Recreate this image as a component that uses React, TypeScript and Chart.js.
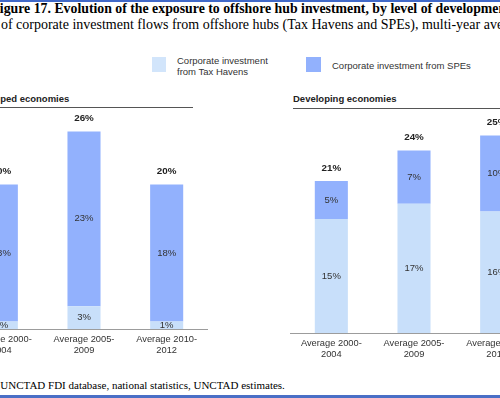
import React, { useEffect, useRef } from "react";
import { Chart, registerables } from "chart.js";

Chart.register(...registerables);

// ---- data ----
const categories = [
  ["Average 2000-", "2004"],
  ["Average 2005-", "2009"],
  ["Average 2010-", "2012"],
];
const seriesNames = ["Corporate investment from Tax Havens", "Corporate investment from SPEs"];
const developedTaxHavens = [1, 3, 1];
const developedSPEs = [18, 23, 18];
const developedTotals = [20, 26, 20];
const developingTaxHavens = [15, 17, 16];
const developingSPEs = [5, 7, 10];
const developingTotals = [21, 24, 25];

const LIGHT = "#c8dffa";
const DARK = "#92b1fd";
const SANS = '"Liberation Sans", Arial, Helvetica, sans-serif';
const SERIF = '"Liberation Serif", "Times New Roman", Times, serif';

function makeLabelPlugin(totals: number[]) {
  return {
    id: "barLabels",
    afterDatasetsDraw(chart: any) {
      const ctx = chart.ctx;
      ctx.save();
      ctx.textAlign = "center";
      ctx.textBaseline = "middle";
      chart.data.datasets.forEach((ds: any, di: number) => {
        const meta = chart.getDatasetMeta(di);
        meta.data.forEach((bar: any, i: number) => {
          const p = bar.getProps(["x", "y", "base"], true);
          ctx.font = `9.5px ${SANS}`;
          ctx.fillStyle = "#333333";
          ctx.fillText(ds.data[i] + "%", p.x, (p.y + p.base) / 2);
        });
      });
      const top = chart.getDatasetMeta(chart.data.datasets.length - 1);
      top.data.forEach((bar: any, i: number) => {
        const p = bar.getProps(["x", "y"], true);
        ctx.font = `bold 9.8px ${SANS}`;
        ctx.fillStyle = "#222222";
        ctx.fillText(totals[i] + "%", p.x, p.y - 13);
      });
      ctx.restore();
    },
  };
}

function Panel(props: { tax: number[]; spe: number[]; totals: number[]; style: any }) {
  const ref = useRef<HTMLCanvasElement | null>(null);
  useEffect(() => {
    if (!ref.current) return;
    const chart = new Chart(ref.current, {
      type: "bar",
      data: {
        labels: categories as any,
        datasets: [
          { label: seriesNames[0], data: props.tax, backgroundColor: LIGHT, barPercentage: 0.4, categoryPercentage: 1 },
          { label: seriesNames[1], data: props.spe, backgroundColor: DARK, barPercentage: 0.4, categoryPercentage: 1 },
        ],
      },
      options: {
        animation: false,
        responsive: false,
        maintainAspectRatio: false,
        layout: { padding: 0 },
        plugins: { legend: { display: false }, tooltip: { enabled: false } },
        scales: {
          x: {
            stacked: true,
            grid: { display: false, drawTicks: false },
            border: { display: true, color: "#9c9c9c", width: 1 },
            ticks: {
              font: { family: SANS, size: 9.3, lineHeight: 1.15 },
              color: "#333333",
              padding: 5,
              maxRotation: 0,
              autoSkip: false,
            },
            afterFit: (s: any) => {
              s.height = 40;
            },
          },
          y: { stacked: true, display: false, min: 0, max: 30 },
        },
      },
      plugins: [makeLabelPlugin(props.totals)],
    } as any);
    return () => chart.destroy();
  }, []);
  return <canvas ref={ref} width={248} height={268} style={{ position: "absolute", ...props.style }} />;
}

const abs = (o: any) => ({ position: "absolute", whiteSpace: "nowrap", margin: 0, ...o });

export default function App() {
  return (
    <div
      style={{
        position: "fixed",
        left: 0,
        top: 0,
        width: 500,
        height: 398,
        overflow: "hidden",
        background: "#ffffff",
      }}
    >
      <div style={abs({ left: 0, top: 0, width: 500, height: 2, background: "#4169c8" })} />
      <div style={abs({ left: 0, top: 395, width: 500, height: 3, background: "#4a6fc6" })} />

      <div style={abs({ left: -8.6, top: 1, font: `bold 13.8px/16px ${SERIF}`, color: "#000" })}>
        Figure 17. Evolution of the exposure to offshore hub investment, by level of development
      </div>
      <div style={abs({ left: -34.5, top: 17, font: `14px/16px ${SERIF}`, color: "#000" })}>
        Share of corporate investment flows from offshore hubs (Tax Havens and SPEs), multi-year averages
      </div>

      <div style={abs({ left: 152, top: 57, width: 14, height: 15, background: "#d2e5fb" })} />
      <div style={abs({ left: 177, top: 54.5, font: `9.5px/11px ${SANS}`, color: "#333" })}>
        Corporate investment
        <br />
        from Tax Havens
      </div>
      <div style={abs({ left: 306, top: 57, width: 15, height: 15, background: DARK })} />
      <div style={abs({ left: 332, top: 59.5, font: `9.5px/11px ${SANS}`, color: "#333" })}>
        Corporate investment from SPEs
      </div>

      <div style={abs({ left: -31, top: 93, font: `bold 9.5px/12px ${SANS}`, color: "#222" })}>
        Developed economies
      </div>
      <div style={abs({ left: -31, top: 107, width: 224, height: 1, background: "#555" })} />
      <div style={abs({ left: 293, top: 93, font: `bold 9.5px/12px ${SANS}`, color: "#222" })}>
        Developing economies
      </div>
      <div style={abs({ left: 293, top: 108, width: 230, height: 1, background: "#555" })} />

      <Panel tax={developedTaxHavens} spe={developedSPEs} totals={developedTotals} style={{ left: -40, top: 101 }} />
      <Panel tax={developingTaxHavens} spe={developingSPEs} totals={developingTotals} style={{ left: 290, top: 105 }} />

      <div style={abs({ left: -36, top: 378, font: `11px/14px ${SERIF}`, color: "#000" })}>
        Source: UNCTAD FDI database, national statistics, UNCTAD estimates.
      </div>
    </div>
  );
}
